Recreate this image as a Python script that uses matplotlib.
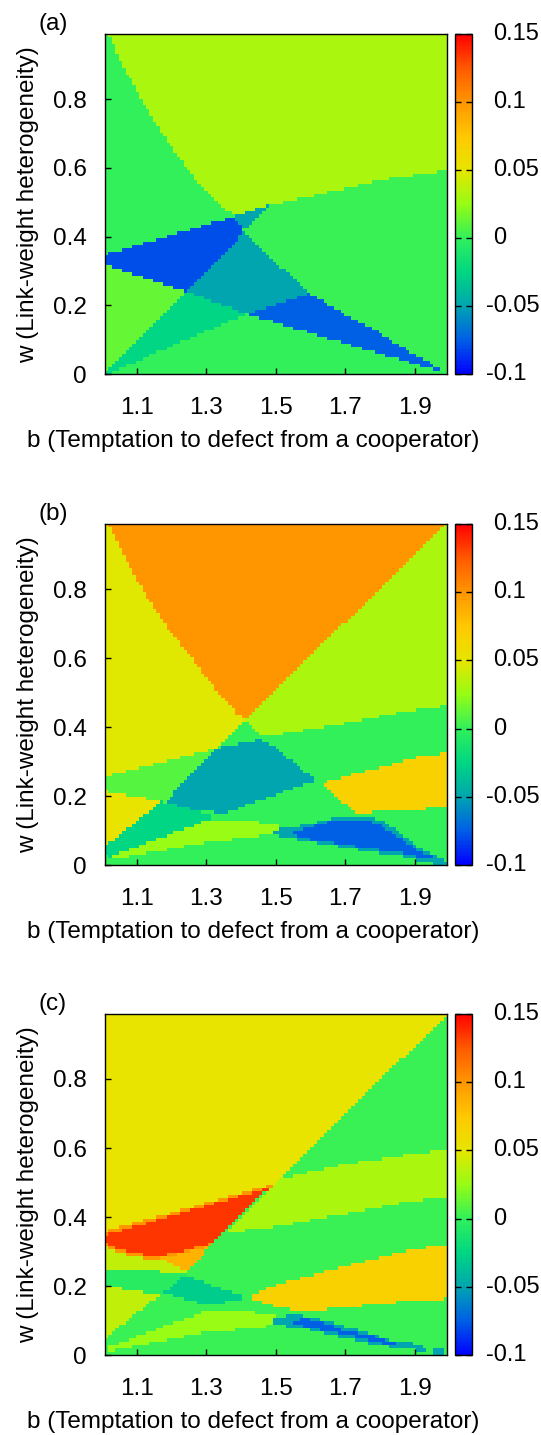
import numpy as np
import matplotlib
matplotlib.use("Agg")
import matplotlib.pyplot as plt
from matplotlib.path import Path
from matplotlib.colors import LinearSegmentedColormap
from matplotlib.transforms import blended_transform_factory

plt.rcParams['font.family'] = ['Liberation Sans', 'DejaVu Sans']

# ---------------- colour scale (value -> colour)
cbar_vals = [-0.10, -0.075, -0.05, -0.025, 0.0, 0.025, 0.05, 0.075, 0.10, 0.125, 0.15]
cbar_cols = ['#0000ff', '#005fe6', '#00a5af', '#00d782', '#32f05a', '#96fc14',
             '#e6e600', '#ffc800', '#ff9600', '#ff5a00', '#ff0000']
cbar_ticks = [-0.1, -0.05, 0, 0.05, 0.1, 0.15]
cbar_ticklabels = ['-0.1', '-0.05', '0', '0.05', '0.1', '0.15']

x_ticks = [1.1, 1.3, 1.5, 1.7, 1.9]
y_ticks = [0, 0.2, 0.4, 0.6, 0.8]
b_range = (1.009, 1.992)
w_range = (0.0, 0.989)
n_cells = 100

# ---------------- panel (a): regions (b, w) vertices and values
a_background = 0.0
a_yg = [(1.0186, 1.0), (1.0186, 0.989), (1.0569, 0.904), (1.1096, 0.807), (1.167, 0.710),
        (1.234, 0.613), (1.272, 0.565), (1.320, 0.516), (1.359, 0.478), (1.378, 0.461),
        (1.483, 0.492), (1.636, 0.526), (1.828, 0.570), (2.01, 0.595), (2.01, 1.01), (1.0186, 1.01)]
a_right = [(1.378, 0.461), (1.483, 0.492), (1.636, 0.526), (1.828, 0.570), (2.01, 0.595),
           (2.01, -0.01), (1.981, 0.011), (1.885, 0.066), (1.790, 0.124), (1.694, 0.177),
           (1.598, 0.235), (1.502, 0.323), (1.411, 0.415)]
a_t0 = [(1.378, 0.461), (1.483, 0.492), (1.411, 0.415)]
a_b1 = [(0.99, 0.342), (1.378, 0.458), (1.411, 0.415), (1.244, 0.240), (0.99, 0.326)]
a_t1 = [(1.411, 0.415), (1.502, 0.323), (1.598, 0.235), (1.416, 0.175), (1.244, 0.240)]
a_b2 = [(1.416, 0.175), (1.598, 0.235), (1.694, 0.177), (1.790, 0.124), (1.885, 0.066),
        (1.981, 0.011), (1.981, 0.005)]
a_light = [(0.99, 0.326), (1.244, 0.240), (0.99, -0.01)]
a_dark = [(1.244, 0.240), (1.416, 0.175), (0.99, -0.01)]
a_corner = [(1.965, -0.01), (2.01, -0.01), (2.01, 0.02)]
a_regions = [(0.031, a_yg), (0.002, a_right), (-0.05, a_t0), (-0.079, a_b1), (-0.05, a_t1),
             (-0.074, a_b2), (0.0125, a_light), (-0.025, a_dark), (-0.05, a_corner)]

# ---------------- panel (b)
b_background = 0.0
b_yellow = [(0.99, 1.01), (1.2, 1.01), (1.411, 0.421), (1.330, 0.338), (0.99, 0.251)]
b_yg = [(1.411, 0.421), (1.6, 1.01), (2.01, 1.01), (2.01, 0.466), (1.866, 0.445),
        (1.675, 0.406), (1.50, 0.378), (1.455, 0.377)]
b_orange = [(1.015, 1.01), (1.019, 0.986), (1.062, 0.899), (1.110, 0.812), (1.157, 0.735),
            (1.205, 0.667), (1.253, 0.609), (1.301, 0.542), (1.349, 0.484), (1.387, 0.440),
            (1.411, 0.421), (1.986, 0.986), (1.995, 1.01)]
b_lightband = [(0.99, 0.251), (1.330, 0.338), (1.181, 0.182), (1.172, 0.184), (0.99, 0.218)]
b_lowyellow = [(0.99, 0.218), (1.172, 0.184), (0.99, 0.039)]
b_teal = [(1.181, 0.182), (1.330, 0.338), (1.454, 0.363), (1.483, 0.353), (1.617, 0.245),
          (1.483, 0.198), (1.359, 0.152), (1.282, 0.155), (1.181, 0.178)]
b_gold = [(1.632, 0.237), (1.771, 0.276), (1.914, 0.314), (2.01, 0.326), (2.01, 0.169),
          (1.828, 0.156), (1.732, 0.151), (1.675, 0.193)]
b_dark = [(1.172, 0.184), (1.282, 0.155), (1.33, 0.138), (1.301, 0.129), (1.023, 0.024),
          (0.99, 0.039)]
b_ygband = [(1.023, 0.024), (1.301, 0.129), (1.397, 0.131), (1.512, 0.116), (1.512, 0.092),
            (1.282, 0.063), (1.023, 0.015)]
b_tealrim = [(1.493, 0.102), (1.541, 0.106), (1.617, 0.124), (1.684, 0.140), (1.771, 0.140),
             (1.818, 0.121), (1.914, 0.048), (1.981, 0.015), (2.01, -0.01), (1.953, 0.005),
             (1.866, 0.024), (1.771, 0.039), (1.579, 0.070), (1.493, 0.087)]
b_blue = [(1.541, 0.092), (1.617, 0.116), (1.684, 0.131), (1.761, 0.131), (1.809, 0.111),
          (1.905, 0.044), (1.962, 0.019), (1.943, 0.015), (1.866, 0.034), (1.771, 0.048),
          (1.675, 0.063), (1.579, 0.077)]
b_regions = [(0.048, b_yellow), (0.031, b_yg), (0.10, b_orange), (0.009, b_lightband),
             (0.052, b_lowyellow), (-0.05, b_teal), (0.068, b_gold), (-0.025, b_dark),
             (0.025, b_ygband), (-0.05, b_tealrim), (-0.074, b_blue)]

# ---------------- panel (c)
c_background = 0.002
c_yellow = [(0.99, 1.01), (2.01, 1.01), (2.01, 0.99), (1.986, 0.982), (1.488, 0.485), (0.99, 0.342)]
c_ygband = [(1.505, 0.505), (1.521, 0.514), (1.694, 0.552), (1.885, 0.581), (2.01, 0.598),
            (2.01, 0.462), (1.866, 0.443), (1.675, 0.405), (1.512, 0.373), (1.353, 0.353)]
c_lime_up = [(0.99, 0.330), (1.090, 0.295), (1.157, 0.286), (1.167, 0.281), (1.244, 0.242),
             (0.99, 0.243)]
c_rim = [(0.99, 0.353), (1.494, 0.497), (1.30, 0.31), (1.225, 0.29), (1.157, 0.276),
         (1.09, 0.285), (0.99, 0.320)]
c_red = [(0.99, 0.342), (1.483, 0.486), (1.311, 0.324), (1.282, 0.316), (1.225, 0.300),
         (1.157, 0.286), (1.090, 0.295), (0.99, 0.330)]
c_orange = [(1.167, 0.281), (1.311, 0.315), (1.244, 0.242)]
c_midband = [(0.99, 0.243), (1.244, 0.242), (1.239, 0.230), (1.177, 0.180), (1.167, 0.175),
             (0.99, 0.205)]
c_lime_low = [(0.99, 0.205), (1.167, 0.175), (0.99, 0.035)]
c_diamond = [(1.239, 0.230), (1.407, 0.172), (1.407, 0.155), (1.282, 0.151), (1.177, 0.180)]
c_gold = [(1.416, 0.168), (1.483, 0.199), (1.675, 0.252), (1.866, 0.300), (2.01, 0.324),
          (2.01, 0.165), (1.866, 0.155), (1.675, 0.136), (1.579, 0.126), (1.483, 0.146)]
c_ygband_low = [(1.023, 0.025), (1.301, 0.129), (1.397, 0.131), (1.512, 0.112), (1.512, 0.088),
                (1.282, 0.064), (1.023, 0.011)]
c_teal = [(1.493, 0.107), (1.541, 0.117), (1.569, 0.117), (1.636, 0.102), (1.723, 0.078),
          (1.828, 0.044), (1.924, 0.030), (1.933, 0.011), (1.818, 0.025), (1.675, 0.054),
          (1.579, 0.078), (1.493, 0.088)]
c_blue = [(1.541, 0.097), (1.579, 0.107), (1.627, 0.097), (1.694, 0.073), (1.790, 0.054),
          (1.847, 0.035), (1.828, 0.030), (1.751, 0.049), (1.675, 0.064), (1.579, 0.083)]
c_corner = [(1.955, 0.0), (1.985, 0.0), (1.985, 0.02), (1.955, 0.02)]
c_regions = [(0.052, c_yellow), (0.031, c_ygband), (0.038, c_lime_up), (0.10, c_rim),
             (0.135, c_red), (0.085, c_orange), (-0.005, c_midband), (0.038, c_lime_low),
             (-0.03, c_diamond), (0.068, c_gold), (0.025, c_ygband_low), (-0.05, c_teal),
             (-0.074, c_blue), (-0.05, c_corner)]

panels = [("(a)", a_background, a_regions),
          ("(b)", b_background, b_regions),
          ("(c)", c_background, c_regions)]

# ---------------- figure
W, H = 541, 1435
fig = plt.figure(figsize=(W / 100, H / 100), dpi=100)
FS = 17.5

cmap = LinearSegmentedColormap.from_list(
    'pal', [((v - cbar_vals[0]) / (cbar_vals[-1] - cbar_vals[0]), c) for v, c in zip(cbar_vals, cbar_cols)])

b_edges = np.linspace(b_range[0], b_range[1], n_cells + 1)
w_edges = np.linspace(w_range[0], w_range[1], n_cells + 1)
bc = 0.5 * (b_edges[:-1] + b_edges[1:])
wc = 0.5 * (w_edges[:-1] + w_edges[1:])
BB, WW = np.meshgrid(bc, wc)
pts = np.column_stack([BB.ravel(), WW.ravel()])

tops = [34.0, 524.0, 1013.7]
bots = [374.3, 865.0, 1355.3]
for (label, bg, regions), top, bot in zip(panels, tops, bots):
    Z = np.full(BB.shape, bg, dtype=float)
    for val, verts in regions:
        m = Path(verts).contains_points(pts).reshape(BB.shape)
        Z[m] = val
    ax = fig.add_axes([105 / W, 1 - bot / H, 342 / W, (bot - top) / H])
    mesh = ax.pcolormesh(b_edges, w_edges, Z, cmap=cmap, vmin=-0.1, vmax=0.15, shading='flat')
    ax.set_xlim(*b_range)
    ax.set_ylim(*w_range)
    ax.set_xticks(x_ticks)
    ax.set_xticklabels([f"{t:g}" for t in x_ticks])
    ax.set_yticks(y_ticks)
    ax.set_yticklabels([f"{t:g}" for t in y_ticks])
    ax.tick_params(direction='in', length=4, width=1, labelsize=FS, top=False, right=False)
    ax.tick_params(axis='x', pad=16.5)
    ax.tick_params(axis='y', pad=13)
    for s in ax.spines.values():
        s.set_linewidth(1.0)
    ax.set_ylabel("w (Link-weight heterogeneity)", fontsize=FS, labelpad=10)
    fig.text(253 / W, 1 - (bot + 56) / H, "b (Temptation to defect from a cooperator)",
             fontsize=FS, ha='center', va='top')
    fig.text(38 / W, 1 - (top - 10) / H, label, fontsize=FS, ha='left', va='center')

    cax = fig.add_axes([455 / W, 1 - bot / H, 17 / W, (bot - top) / H])
    cb = fig.colorbar(mesh, cax=cax, ticks=cbar_ticks)
    cb.ax.set_yticklabels([])
    cb.ax.tick_params(direction='in', length=4, width=1, left=True, right=True)
    cb.outline.set_linewidth(1.0)
    tr = blended_transform_factory(cax.transAxes, cax.transData)
    for t, s in zip(cbar_ticks, cbar_ticklabels):
        xpx = 486 if s.startswith('-') else 493
        cax.text((xpx - 455) / 17, t, s, transform=tr, fontsize=17, ha='left', va='center')

fig.savefig("out.png", dpi=100)
